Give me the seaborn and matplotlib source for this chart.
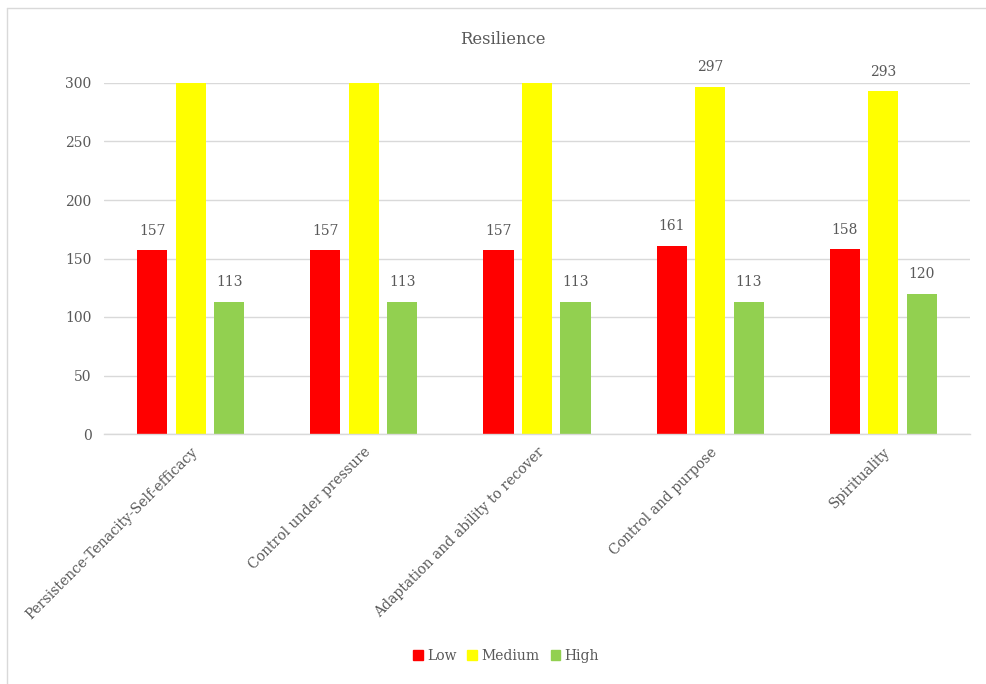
import matplotlib
matplotlib.use("Agg")
import matplotlib.pyplot as plt
import seaborn as sns
import pandas as pd
from matplotlib.patches import Rectangle
from matplotlib.lines import Line2D

categories = ["Persistence-Tenacity-Self-efficacy", "Control under pressure",
              "Adaptation and ability to recover", "Control and purpose", "Spirituality"]
series_names = ["Low", "Medium", "High"]
low = [157, 157, 157, 161, 158]
medium = [330, 330, 330, 297, 293]  # first three exceed the 300 axis limit (clipped in reference)
high = [113, 113, 113, 113, 120]
colors = ["#FF0000", "#FFFF00", "#92D050"]
y_ticks = [0, 50, 100, 150, 200, 250, 300]

rows = []
for name, vals in zip(series_names, [low, medium, high]):
    for c, v in zip(categories, vals):
        rows.append({"category": c, "series": name, "value": v})
df = pd.DataFrame(rows)

sns.set_theme(style="white")
plt.rcParams["font.family"] = ["DejaVu Serif"]
text_color = "#595959"
fs = 10

W, H = 987, 684
fig = plt.figure(figsize=(W / 100, H / 100), dpi=100)
ax = fig.add_axes([104 / W, 1 - 434 / H, 866 / W, (434 - 83) / H])

sns.barplot(data=df, x="category", y="value", hue="series", order=categories,
            hue_order=series_names, palette=colors, width=0.667, gap=0.22,
            saturation=1, ax=ax, legend=True, errorbar=None, linewidth=0,
            edgecolor="none")

ax.set_ylim(0, 300)
ax.set_yticks(y_ticks)
ax.set_yticklabels([str(t) for t in y_ticks], color=text_color, fontsize=fs)
ax.yaxis.grid(True, color="#D9D9D9", linewidth=1)
ax.set_axisbelow(True)
for s in ["top", "right", "left"]:
    ax.spines[s].set_visible(False)
ax.spines["bottom"].set_color("#D9D9D9")
ax.spines["bottom"].set_linewidth(1)
ax.tick_params(axis="both", length=0)
ax.tick_params(axis="y", pad=9)
ax.set_xlabel("")
ax.set_ylabel("")
ax.set_xticks(range(len(categories)))
ax.set_xticklabels(categories, rotation=45, ha="right", rotation_mode="anchor",
                   color=text_color, fontsize=fs)
ax.tick_params(axis="x", pad=8)

for cont in ax.containers:
    for bar in cont:
        h = bar.get_height()
        if h <= 300:
            ax.annotate(f"{int(round(h))}", (bar.get_x() + bar.get_width() / 2, h),
                        xytext=(0, 9), textcoords="offset points", ha="center",
                        va="bottom", color=text_color, fontsize=fs)

fig.text(503 / W, 1 - 40 / H, "Resilience", color=text_color, fontsize=11.8,
         ha="center", va="center")

ax.legend_.remove()
handles = [Rectangle((0, 0), 1, 1, color=c) for c in colors]
fig.legend(handles, series_names, loc="center", bbox_to_anchor=(506 / W, 1 - 656 / H), ncol=3,
           frameon=False, fontsize=fs, labelcolor=text_color, handlelength=0.7,
           handleheight=0.7, handletextpad=0.3, columnspacing=0.8)

fig.lines.append(Line2D([7.5 / W, 7.5 / W], [0, 1 - 7.5 / H], transform=fig.transFigure,
                        color="#D9D9D9", linewidth=1))
fig.lines.append(Line2D([7.5 / W, 1], [1 - 7.5 / H, 1 - 7.5 / H], transform=fig.transFigure,
                        color="#D9D9D9", linewidth=1))

fig.savefig("out.png", dpi=100)
